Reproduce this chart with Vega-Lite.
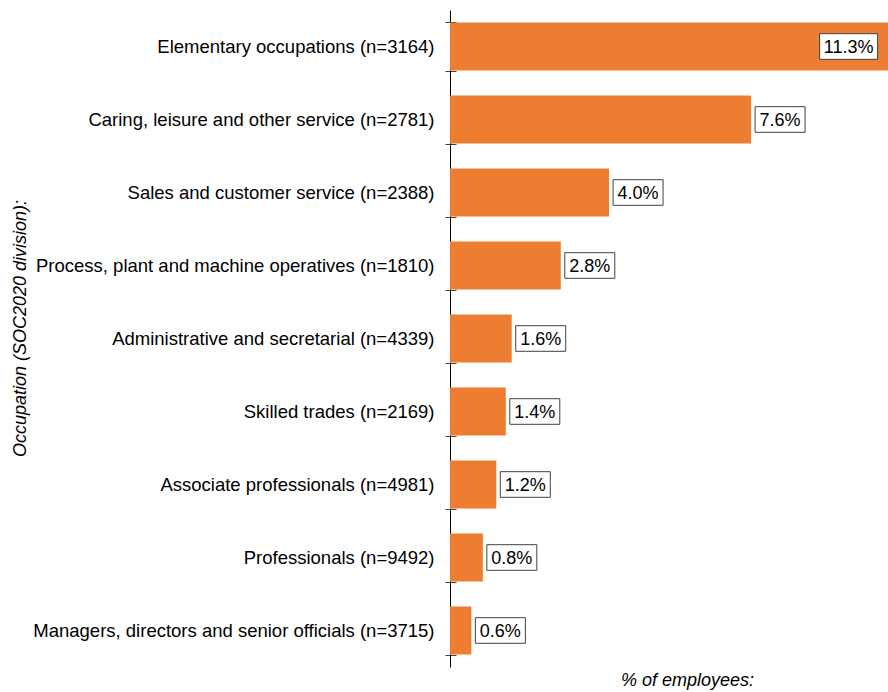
{
  "$schema": "https://vega.github.io/schema/vega-lite/v6.json",
  "width": 438,
  "height": 657,
  "autosize": "none",
  "padding": {"left": 450, "top": 10, "right": 0, "bottom": 25},
  "background": "white",
  "config": {
    "view": {"stroke": null},
    "font": "Liberation Sans",
    "text": {"font": "Liberation Sans"}
  },
  "data": {
    "values": [
      {"occupation": "Elementary occupations (n=3164)", "pct": 11.3, "label": "11.3%"},
      {"occupation": "Caring, leisure and other service (n=2781)", "pct": 7.61, "label": "7.6%"},
      {"occupation": "Sales and customer service (n=2388)", "pct": 4.02, "label": "4.0%"},
      {"occupation": "Process, plant and machine operatives (n=1810)", "pct": 2.8, "label": "2.8%"},
      {"occupation": "Administrative and secretarial (n=4339)", "pct": 1.56, "label": "1.6%"},
      {"occupation": "Skilled trades (n=2169)", "pct": 1.41, "label": "1.4%"},
      {"occupation": "Associate professionals (n=4981)", "pct": 1.17, "label": "1.2%"},
      {"occupation": "Professionals (n=9492)", "pct": 0.83, "label": "0.8%"},
      {"occupation": "Managers, directors and senior officials (n=3715)", "pct": 0.54, "label": "0.6%"}
    ]
  },
  "encoding": {
    "y": {
      "field": "occupation",
      "type": "nominal",
      "sort": null,
      "scale": {"paddingInner": 0.34, "paddingOuter": 0.17}
    },
    "x": {
      "field": "pct",
      "type": "quantitative",
      "scale": {"domain": [0, 11.07], "nice": false, "zero": true}
    }
  },
  "layer": [
    {
      "mark": {"type": "bar", "color": "#ED7D31", "clip": true},
      "encoding": {
        "y": {
          "field": "occupation",
          "type": "nominal",
          "sort": null,
          "axis": {
            "title": "Occupation (SOC2020 division):",
            "titleFont": "Liberation Sans",
            "titleFontSize": 18,
            "titleFontStyle": "italic",
            "titleFontWeight": "normal",
            "titleColor": "#000000",
            "titleAngle": 270,
            "titleAlign": "center",
            "titleBaseline": "middle",
            "titleX": -430,
            "titleY": 318,
            "labelFont": "Liberation Sans",
            "labelFontSize": 18.5,
            "labelColor": "#000000",
            "labelLimit": 0,
            "labelPadding": 11,
            "tickSize": 5,
            "tickColor": "#404040",
            "tickBand": "extent",
            "domainColor": "#000000",
            "domainWidth": 1
          }
        },
        "x": {
          "field": "pct",
          "type": "quantitative",
          "axis": {
            "title": "% of employees:",
            "titleFont": "Liberation Sans",
            "titleFontSize": 18,
            "titleFontStyle": "italic",
            "titleFontWeight": "normal",
            "titleColor": "#000000",
            "titleAlign": "center",
            "titleBaseline": "middle",
            "titleX": 237,
            "titleY": 13,
            "domain": false,
            "ticks": false,
            "labels": false,
            "grid": false
          }
        }
      }
    },
    {
      "transform": [{"filter": "datum.pct < 10"}],
      "mark": {
        "type": "point",
        "shape": "M-25,-12.8H25V12.8H-25Z",
        "size": 4,
        "filled": true,
        "fill": "white",
        "stroke": "#404040",
        "strokeWidth": 1,
        "opacity": 1,
        "xOffset": 29
      },
      "encoding": {
        "y": {
          "field": "occupation",
          "type": "nominal",
          "sort": null,
          "axis": {
            "orient": "left",
            "title": null,
            "labels": false,
            "domain": false,
            "tickSize": -6,
            "tickColor": "#404040",
            "tickBand": "extent"
          }
        }
      }
    },
    {
      "transform": [{"filter": "datum.pct < 10"}],
      "mark": {
        "type": "text",
        "fontSize": 18,
        "color": "#000000",
        "align": "center",
        "baseline": "middle",
        "xOffset": 29,
        "yOffset": 1
      },
      "encoding": {"text": {"field": "label"}}
    },
    {
      "transform": [{"filter": "datum.pct >= 10"}],
      "mark": {
        "type": "point",
        "shape": "M-29,-12.8H29V12.8H-29Z",
        "size": 4,
        "filled": true,
        "fill": "white",
        "stroke": "#404040",
        "strokeWidth": 1,
        "opacity": 1,
        "xOffset": -48.5
      }
    },
    {
      "transform": [{"filter": "datum.pct >= 10"}],
      "mark": {
        "type": "text",
        "fontSize": 18,
        "color": "#000000",
        "align": "center",
        "baseline": "middle",
        "xOffset": -48.5,
        "yOffset": 1
      },
      "encoding": {"text": {"field": "label"}}
    }
  ],
  "resolve": {"axis": {"y": "independent"}}
}
